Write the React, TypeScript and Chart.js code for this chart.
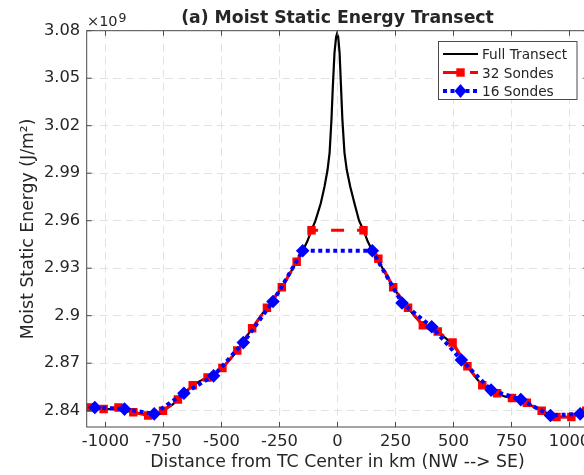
import React, { useEffect, useRef } from "react";
import { Chart, registerables } from "chart.js";

Chart.register(...registerables);

const FONT = '"DejaVu Sans", sans-serif';
const TEXT = "#262626";
const AXIS = "#4a4a4a";

const titleText = "(a) Moist Static Energy Transect";
const xTitle = "Distance from TC Center in km (NW --> SE)";
const yTitle = "Moist Static Energy (J/m\u00B2)";
const legendLabels = ["Full Transect", "32 Sondes", "16 Sondes"];

const xTickValues = [-1000, -750, -500, -250, 0, 250, 500, 750, 1000];
const xTickLabels = ["-1000", "-750", "-500", "-250", "0", "250", "500", "750", "1000"];
const yTickValues = [2.84, 2.87, 2.9, 2.93, 2.96, 2.99, 3.02, 3.05, 3.08];
const yTickLabels = ["2.84", "2.87", "2.9", "2.93", "2.96", "2.99", "3.02", "3.05", "3.08"];

// Full transect (km, x10^9 J/m^2)
const fullX = [
  -1081, -1040, -1000, -960, -920, -880, -840, -800, -770, -740, -710, -688, -660, -624, -590, -560, -530,
  -496, -465, -432, -400, -368, -336, -304, -272, -240, -208, -176, -150, -130, -112, -95, -72, -56, -43,
  -34, -26, -20, -13, -6, -2, 3, 9, 15, 21, 30, 40, 55, 73, 93, 112, 130, 150,
  176, 208, 240, 272, 304, 336, 368, 400, 432, 465, 496, 530, 560, 590, 624, 656, 688, 720, 752, 790,
  816, 850, 880, 912, 944, 976, 1008, 1040, 1081,
];
const fullY = [
  2.842, 2.841, 2.841, 2.841, 2.84, 2.839, 2.838, 2.837, 2.838, 2.841, 2.844, 2.847, 2.851, 2.856, 2.859,
  2.861, 2.863, 2.867, 2.872, 2.878, 2.885, 2.892, 2.899, 2.905, 2.911, 2.918, 2.926, 2.934, 2.941, 2.947,
  2.954, 2.96, 2.971, 2.9815, 2.992, 3.003, 3.024, 3.045, 3.066, 3.076, 3.078, 3.076, 3.066, 3.045, 3.024,
  3.003, 2.992, 2.9815, 2.971, 2.96, 2.954, 2.947, 2.941, 2.935,
  2.926, 2.918, 2.911, 2.905, 2.899, 2.894, 2.891, 2.889, 2.886, 2.882, 2.875, 2.868, 2.862, 2.856,
  2.853, 2.851, 2.849, 2.848, 2.846, 2.845, 2.842, 2.84, 2.838, 2.836, 2.836, 2.836, 2.838, 2.84,
];

// 32 sondes
const redX = [
  -1072, -1008, -944, -880, -816, -752, -688, -624, -560, -496, -432, -368, -304, -240, -176, -112,
  112, 176, 240, 304, 368, 432, 496, 560, 624, 688, 752, 816, 880, 944, 1008, 1072,
];
const redY = [
  2.842, 2.841, 2.842, 2.839, 2.837, 2.84, 2.847, 2.856, 2.861, 2.867, 2.878, 2.892, 2.905, 2.918, 2.934,
  2.954, 2.954, 2.936, 2.918, 2.905, 2.894, 2.89, 2.883, 2.868, 2.856, 2.851, 2.848, 2.845, 2.84, 2.836,
  2.836, 2.84,
];

// 16 sondes
const blueX = [-1046, -918, -790, -662, -534, -406, -278, -150, 150, 278, 406, 534, 662, 790, 918, 1046];
const blueY = [
  2.842, 2.841, 2.838, 2.851, 2.862, 2.883, 2.909, 2.941, 2.941, 2.908, 2.893, 2.872, 2.853, 2.847,
  2.837, 2.838,
];

const toPts = (xs: number[], ys: number[]) => xs.map((x, i) => ({ x, y: ys[i] }));

const decorPlugin = {
  id: "decor",
  afterDraw(chart: any) {
    const { ctx, chartArea } = chart;
    const { left, right, top, bottom } = chartArea;
    const xs = chart.scales.x;
    const ys = chart.scales.y;
    ctx.save();
    // box
    ctx.strokeStyle = AXIS;
    ctx.lineWidth = 1;
    ctx.setLineDash([]);
    ctx.strokeRect(left, top, right - left, bottom - top);
    // inward ticks
    const tl = 5;
    ctx.beginPath();
    xTickValues.forEach((v) => {
      const px = xs.getPixelForValue(v);
      ctx.moveTo(px, bottom);
      ctx.lineTo(px, bottom - tl);
      ctx.moveTo(px, top);
      ctx.lineTo(px, top + tl);
    });
    yTickValues.forEach((v) => {
      const py = ys.getPixelForValue(v);
      ctx.moveTo(left, py);
      ctx.lineTo(left + tl, py);
      ctx.moveTo(right, py);
      ctx.lineTo(right - tl, py);
    });
    ctx.stroke();

    // title
    ctx.fillStyle = TEXT;
    ctx.font = `bold 17.3px ${FONT}`;
    ctx.textAlign = "center";
    ctx.textBaseline = "alphabetic";
    ctx.fillText(titleText, (left + right) / 2, 22.7);

    // exponent
    ctx.textAlign = "left";
    ctx.font = `14.5px ${FONT}`;
    ctx.fillText("\u00D710", 87, 25.5);
    ctx.font = `12.5px ${FONT}`;
    ctx.fillText("9", 118.5, 22);

    // legend
    const bx = 438.5, by = 41.5, bw = 138.5, bh = 58;
    ctx.fillStyle = "#ffffff";
    ctx.fillRect(bx, by, bw, bh);
    ctx.strokeStyle = AXIS;
    ctx.lineWidth = 1;
    ctx.strokeRect(bx, by, bw, bh);
    const baselines = [59, 77.5, 96];
    const x0 = 443, x1 = 478, mx = 460.5;
    // Full transect
    let cy = baselines[0] - 5;
    ctx.strokeStyle = "#000000";
    ctx.lineWidth = 2.2;
    ctx.beginPath();
    ctx.moveTo(x0, cy);
    ctx.lineTo(x1, cy);
    ctx.stroke();
    // 32 sondes
    cy = baselines[1] - 5;
    ctx.strokeStyle = "#ff0000";
    ctx.fillStyle = "#ff0000";
    ctx.lineWidth = 3;
    ctx.beginPath();
    ctx.moveTo(x0, cy);
    ctx.lineTo(mx, cy);
    ctx.moveTo(470, cy);
    ctx.lineTo(x1, cy);
    ctx.stroke();
    ctx.fillRect(mx - 4.2, cy - 4.2, 8.4, 8.4);
    // 16 sondes
    cy = baselines[2] - 5;
    ctx.strokeStyle = "#0000ff";
    ctx.fillStyle = "#0000ff";
    ctx.lineWidth = 4;
    ctx.setLineDash([4, 3.5]);
    ctx.beginPath();
    ctx.moveTo(x0, cy);
    ctx.lineTo(x1, cy);
    ctx.stroke();
    ctx.setLineDash([]);
    ctx.beginPath();
    ctx.moveTo(mx, cy - 7);
    ctx.lineTo(mx + 6, cy);
    ctx.lineTo(mx, cy + 7);
    ctx.lineTo(mx - 6, cy);
    ctx.closePath();
    ctx.fill();
    // legend texts
    ctx.fillStyle = TEXT;
    ctx.font = `13.7px ${FONT}`;
    ctx.textAlign = "left";
    ctx.textBaseline = "alphabetic";
    legendLabels.forEach((t, i) => ctx.fillText(t, 482, baselines[i]));
    ctx.restore();
  },
};

export default function App() {
  const ref = useRef<HTMLCanvasElement>(null);
  useEffect(() => {
    if (!ref.current) return;
    const chart = new Chart(ref.current, {
      type: "line",
      data: {
        datasets: [
          {
            label: legendLabels[0],
            data: toPts(fullX, fullY),
            borderColor: "#000000",
            borderWidth: 2.2,
            pointRadius: 0,
            tension: 0,
            fill: false,
            order: 3,
          },
          {
            label: legendLabels[1],
            data: toPts(redX, redY),
            borderColor: "#ff0000",
            backgroundColor: "#ff0000",
            borderWidth: 3,
            borderDash: [13, 13],
            borderDashOffset: 4,
            pointStyle: "rect",
            pointRadius: 6,
            pointBorderWidth: 0,
            pointBackgroundColor: "#ff0000",
            tension: 0,
            fill: false,
            order: 2,
          },
          {
            label: legendLabels[2],
            data: toPts(blueX, blueY),
            borderColor: "#0000ff",
            backgroundColor: "#0000ff",
            borderWidth: 4,
            borderDash: [4, 3.5],
            pointStyle: "rectRot",
            pointRadius: 6.8,
            pointBorderWidth: 0,
            pointBackgroundColor: "#0000ff",
            tension: 0,
            fill: false,
            order: 1,
          },
        ],
      },
      options: {
        responsive: false,
        animation: false,
        events: [],
        layout: { padding: { top: 30.7, right: 11.7, left: 0, bottom: 0 } },
        plugins: {
          legend: { display: false },
          tooltip: { enabled: false },
          title: { display: false },
        },
        scales: {
          x: {
            type: "linear",
            min: -1081,
            max: 1081,
            afterBuildTicks: (s: any) => {
              s.ticks = xTickValues.map((v) => ({ value: v }));
            },
            afterFit: (s: any) => {
              s.height = 48;
            },
            ticks: {
              callback: (v: any) => {
                const i = xTickValues.indexOf(Number(v));
                return i >= 0 ? xTickLabels[i] : "";
              },
              font: { family: FONT, size: 16.3 },
              color: TEXT,
              padding: 4.6,
              maxRotation: 0,
              autoSkip: false,
            },
            grid: { color: "#e2e2e2", lineWidth: 1, drawTicks: false },
            border: { display: false, dash: [8, 5] },
            title: {
              display: true,
              text: xTitle,
              font: { family: FONT, size: 17.3 },
              color: TEXT,
              padding: { top: 0, bottom: 1.7 },
            },
          },
          y: {
            type: "linear",
            min: 2.8297,
            max: 3.08,
            afterBuildTicks: (s: any) => {
              s.ticks = yTickValues.map((v) => ({ value: v }));
            },
            afterFit: (s: any) => {
              s.width = 86.7;
            },
            ticks: {
              callback: (v: any) => {
                const i = yTickValues.findIndex((t) => Math.abs(t - Number(v)) < 1e-6);
                return i >= 0 ? yTickLabels[i] : "";
              },
              font: { family: FONT, size: 16.3 },
              color: TEXT,
              padding: 6.5,
              autoSkip: false,
            },
            grid: { color: "#e2e2e2", lineWidth: 1, drawTicks: false },
            border: { display: false, dash: [8, 5] },
            title: {
              display: true,
              text: yTitle,
              font: { family: FONT, size: 17.3 },
              color: TEXT,
              padding: { top: 18.5, bottom: 0 },
            },
          },
        },
      },
      plugins: [decorPlugin],
    } as any);
    return () => chart.destroy();
  }, []);
  return (
    <div
      style={{
        position: "fixed",
        left: 0,
        top: 0,
        width: 584,
        height: 475,
        overflow: "hidden",
        background: "#ffffff",
      }}
    >
      <canvas ref={ref} width={600} height={475} style={{ display: "block", width: 600, height: 475 }} />
    </div>
  );
}
